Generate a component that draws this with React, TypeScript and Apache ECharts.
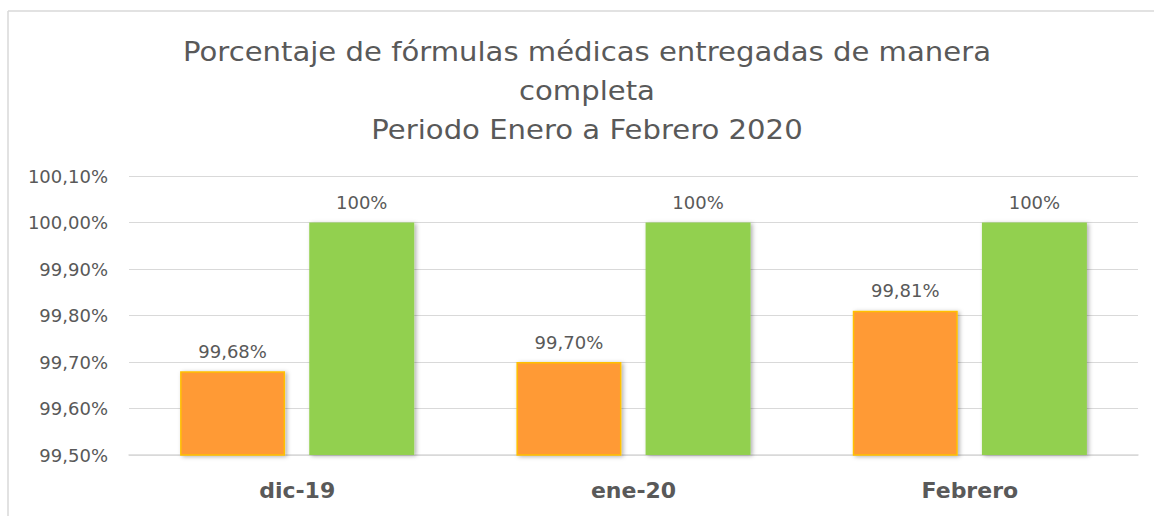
import React, { useEffect, useRef } from "react";
import * as echarts from "echarts";

const categories = ["dic-19", "ene-20", "Febrero"];
const entregadasCompletas = [99.68, 99.7, 99.81];
const meta = [100, 100, 100];
const titleLines = [
  "Porcentaje de fórmulas médicas entregadas de manera",
  "completa",
  "Periodo Enero a Febrero 2020",
];
const yMin = 99.5;
const yMax = 100.1;
const yStep = 0.1;

const fmtComma = (v: number, d: number) => v.toFixed(d).replace(".", ",") + "%";

export default function App() {
  const ref = useRef<HTMLDivElement>(null);
  useEffect(() => {
    document.body.style.margin = "0";
    const chart = echarts.init(ref.current!, null, { renderer: "svg" });
    const textColor = "#595959";
    const font = "'DejaVu Sans', sans-serif";
    chart.setOption({
      animation: false,
      backgroundColor: "#ffffff",
      grid: { left: 129, right: 16, top: 176, bottom: 61, containLabel: false },
      graphic: [
        {
          type: "line",
          shape: { x1: 8, y1: 11, x2: 1154, y2: 11 },
          style: { stroke: "#d9d9d9", lineWidth: 1.5 },
        },
        {
          type: "line",
          shape: { x1: 8, y1: 11, x2: 8, y2: 516 },
          style: { stroke: "#d9d9d9", lineWidth: 1.5 },
        },
        {
          type: "text",
          x: 587,
          y: 33,
          scaleX: 1.12,
          style: {
            text: titleLines.join("\n"),
            textAlign: "center",
            fontFamily: font,
            fontSize: 26,
            lineHeight: 39,
            fill: textColor,
          },
        },
      ],
      xAxis: {
        type: "category",
        data: categories,
        axisTick: { show: false },
        axisLine: { lineStyle: { color: "#d9d9d9", width: 1.5 } },
        axisLabel: {
          color: textColor,
          fontSize: 22,
          fontWeight: "bold",
          fontFamily: font,
          margin: 24,
        },
      },
      yAxis: {
        type: "value",
        min: yMin,
        max: yMax,
        interval: yStep,
        axisLine: { show: false },
        axisTick: { show: false },
        splitLine: { lineStyle: { color: "#d9d9d9", width: 1 } },
        axisLabel: {
          color: textColor,
          fontSize: 18,
          fontFamily: font,
          margin: 21,
          formatter: (v: number) => fmtComma(v, 2),
        },
      },
      series: [
        {
          type: "bar",
          data: entregadasCompletas,
          barWidth: 105,
          barGap: "23%",
          itemStyle: {
            color: "#ff9a35",
            borderColor: "#ffc000",
            borderWidth: 1.5,
            shadowColor: "rgba(0,0,0,0.3)",
            shadowBlur: 4,
            shadowOffsetX: 2,
            shadowOffsetY: 1,
          },
          label: {
            show: true,
            position: "top",
            distance: 11,
            color: textColor,
            fontSize: 18,
            fontFamily: font,
            formatter: (p: any) => fmtComma(p.value, 2),
          },
        },
        {
          type: "bar",
          data: meta,
          barWidth: 105,
          itemStyle: {
            color: "#92d050",
            shadowColor: "rgba(0,0,0,0.3)",
            shadowBlur: 4,
            shadowOffsetX: 2,
            shadowOffsetY: 1,
          },
          label: {
            show: true,
            position: "top",
            distance: 11,
            color: textColor,
            fontSize: 18,
            fontFamily: font,
            formatter: (p: any) => fmtComma(p.value, 0),
          },
        },
      ],
    });
    return () => chart.dispose();
  }, []);
  return <div ref={ref} style={{ width: 1154, height: 516 }} />;
}
